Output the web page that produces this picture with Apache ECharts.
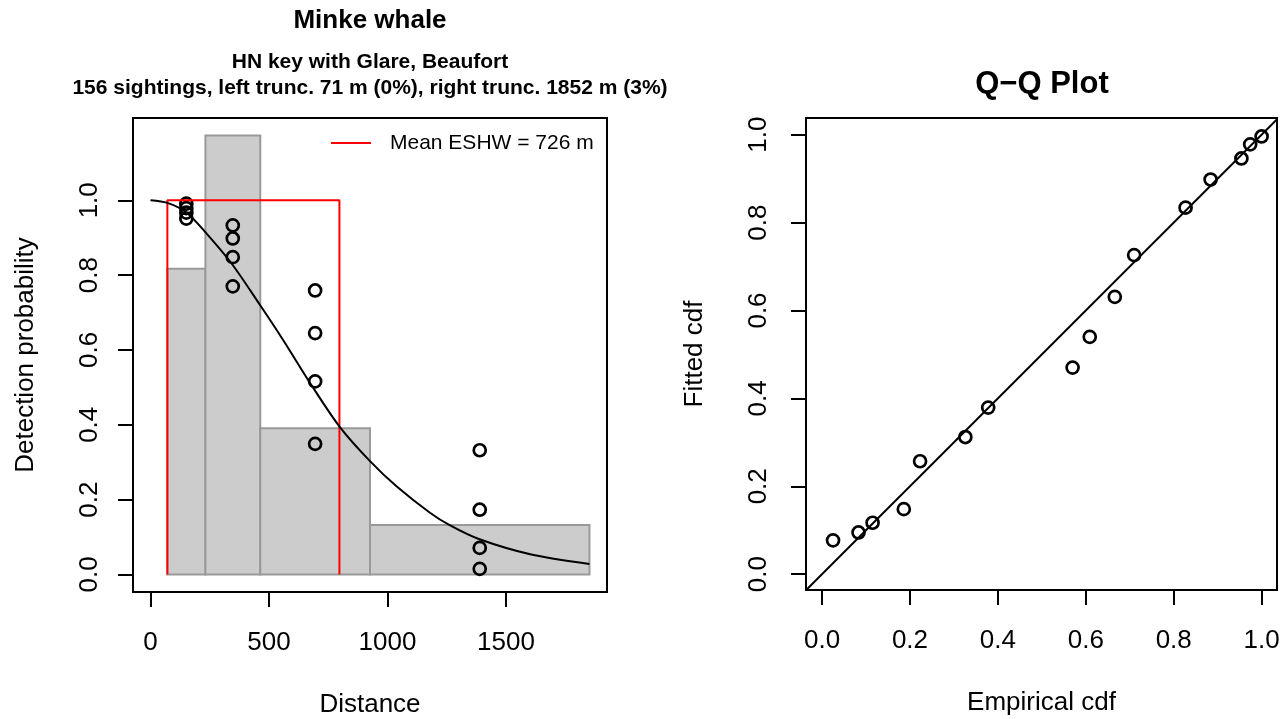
<!DOCTYPE html>
<html>
<head>
<meta charset="utf-8">
<script src="https://cdn.jsdelivr.net/npm/echarts@6/dist/echarts.min.js"></script>
<style>
  html, body { margin: 0; padding: 0; background: #ffffff; }
  #chart { width: 1287px; height: 719px; }
</style>
</head>
<body>
<div id="chart"></div>
<script>
// Histogram bin edges (m) and scaled bar heights
const binEdges = [71, 231.5, 463, 926, 1852];
const binHeights = [0.817, 1.173, 0.391, 0.132];

// Truncation distance and mean effective strip half-width (m)
const leftTrunc = 71;
const meanESHW = 726;
const eshwHeight = 1.0;

// Fitted detection function: distance (m) and detection probability
const curveDist = [0, 71, 150, 231, 342, 462, 560, 680, 799, 926, 1039, 1179, 1264, 1388, 1602, 1852];
const curveProb = [1.000, 0.993, 0.968, 0.915, 0.831, 0.720, 0.626, 0.505, 0.394, 0.303, 0.235, 0.165, 0.131, 0.094, 0.054, 0.028];

// Detection probabilities at the bin midpoints
const pointDist = [151, 347, 694.5, 1389];
const pointProb = [
  [0.991, 0.979, 0.967, 0.951],
  [0.933, 0.898, 0.848, 0.770],
  [0.759, 0.645, 0.516, 0.349],
  [0.332, 0.173, 0.071, 0.015]
];

// Q-Q plot values
const empiricalCdf = [0.025, 0.083, 0.115, 0.186, 0.223, 0.326, 0.378, 0.570, 0.609, 0.666, 0.710, 0.827, 0.884, 0.954, 0.974, 1.000];
const fittedCdf    = [0.077, 0.095, 0.117, 0.148, 0.257, 0.312, 0.379, 0.470, 0.540, 0.631, 0.726, 0.834, 0.898, 0.946, 0.978, 0.996];
const qqLineEnds = [-0.1, 1.1];

// Tick positions
const distTicks = [0, 500, 1000, 1500];
const probTicks = [0, 0.2, 0.4, 0.6, 0.8, 1.0];
const cdfTicks = [0, 0.2, 0.4, 0.6, 0.8, 1.0];

// Text
const mainTitle = 'Minke whale';
const subTitle = ['HN key with Glare, Beaufort',
                  '156 sightings, left trunc. 71 m (0%), right trunc. 1852 m (3%)'];
const qqTitle = 'Q\u2212Q Plot';
const eshwLabel = 'Mean ESHW = ' + meanESHW + ' m';

const FONT = '"Liberation Sans", Arial, Helvetica, sans-serif';

const barData = binHeights.map((h, i) => [binEdges[i], binEdges[i + 1], h]);
const eshwRect = [
  [leftTrunc, 0], [leftTrunc, eshwHeight],
  [leftTrunc + meanESHW, eshwHeight], [leftTrunc + meanESHW, 0]
];
const curveData = curveDist.map((d, i) => [d, curveProb[i]]);
const pointData = [];
pointDist.forEach((d, i) => pointProb[i].forEach(p => pointData.push([d, p])));
const qqData = empiricalCdf.map((e, i) => [e, fittedCdf[i]]);
const qqLine = qqLineEnds.map(v => [v, v]);

function axisCommon(ticks, fmt, margin, rotate, extra) {
  return Object.assign({
    type: 'value',
    splitLine: { show: false },
    axisLine: { show: true, onZero: false, lineStyle: { color: '#000', width: 2 } },
    axisTick: { show: true, length: 15, customValues: ticks, lineStyle: { color: '#000', width: 2 } },
    axisLabel: {
      show: true, customValues: ticks, formatter: fmt, margin: margin, rotate: rotate,
      color: '#000', fontSize: 26, fontFamily: FONT
    },
    nameLocation: 'middle',
    nameTextStyle: { color: '#000', fontSize: 26, fontFamily: FONT }
  }, extra);
}

const chart = echarts.init(document.getElementById('chart'), null, { renderer: 'canvas' });

chart.setOption({
  animation: false,
  backgroundColor: '#ffffff',
  title: [
    {
      text: mainTitle,
      subtext: subTitle.join('\n'),
      left: 370, top: 8, textAlign: 'center', padding: 0, itemGap: 15,
      textStyle: { fontSize: 26, fontWeight: 'bold', color: '#000', fontFamily: FONT, lineHeight: 26 },
      subtextStyle: { fontSize: 21, fontWeight: 'bold', color: '#000', fontFamily: FONT, lineHeight: 26 }
    },
    {
      text: qqTitle,
      left: 1042, top: 68, textAlign: 'center', padding: 0,
      textStyle: { fontSize: 31, fontWeight: 'bold', color: '#000', fontFamily: FONT, lineHeight: 32 }
    }
  ],
  legend: {
    data: [eshwLabel],
    left: 331, top: 131, padding: 0,
    icon: 'rect', itemWidth: 40, itemHeight: 2,
    selectedMode: false,
    textStyle: { fontSize: 21, color: '#000', fontFamily: FONT, lineHeight: 24, padding: [0, 0, 0, 14] }
  },
  grid: [
    { left: 133, top: 118, width: 474, height: 474, outerBoundsMode: 'none', containLabel: false,
      show: true, borderColor: '#000', borderWidth: 2, backgroundColor: 'transparent' },
    { left: 806, top: 118, width: 471, height: 472, outerBoundsMode: 'none', containLabel: false,
      show: true, borderColor: '#000', borderWidth: 2, backgroundColor: 'transparent' }
  ],
  xAxis: [
    axisCommon(distTicks, v => String(v), 38, 0, {
      gridIndex: 0, min: -74, max: 1926, name: 'Distance', nameGap: 100
    }),
    axisCommon(cdfTicks, v => v.toFixed(1), 38, 0, {
      gridIndex: 1, min: -0.0365, max: 1.035, name: 'Empirical cdf', nameGap: 100
    })
  ],
  yAxis: [
    axisCommon(probTicks, v => v.toFixed(1), 30, 90, {
      gridIndex: 0, min: -0.0469, max: 1.2199, name: 'Detection probability', nameGap: 94
    }),
    axisCommon(cdfTicks, v => v.toFixed(1), 34, 90, {
      gridIndex: 1, min: -0.036, max: 1.038, name: 'Fitted cdf', nameGap: 98
    })
  ],
  series: [
    {
      type: 'custom',
      name: 'Observed',
      xAxisIndex: 0, yAxisIndex: 0,
      data: barData,
      encode: { x: [0, 1], y: 2 },
      renderItem: function (params, api) {
        const topLeft = api.coord([api.value(0), api.value(2)]);
        const bottomRight = api.coord([api.value(1), 0]);
        return {
          type: 'rect',
          shape: {
            x: topLeft[0], y: topLeft[1],
            width: bottomRight[0] - topLeft[0],
            height: bottomRight[1] - topLeft[1]
          },
          style: { fill: '#cccccc', stroke: '#999999', lineWidth: 2 }
        };
      }
    },
    {
      type: 'line',
      name: eshwLabel,
      xAxisIndex: 0, yAxisIndex: 0,
      data: eshwRect,
      showSymbol: false, symbol: 'none',
      color: '#ff0000',
      lineStyle: { color: '#ff0000', width: 2 }
    },
    {
      type: 'line',
      name: 'Detection function',
      xAxisIndex: 0, yAxisIndex: 0,
      data: curveData,
      showSymbol: false, symbol: 'none',
      smooth: 0.3,
      lineStyle: { color: '#000', width: 2 }
    },
    {
      type: 'scatter',
      name: 'Bin probability',
      xAxisIndex: 0, yAxisIndex: 0,
      data: pointData,
      symbol: 'circle', symbolSize: 12,
      itemStyle: { color: 'transparent', borderColor: '#000', borderWidth: 2.7, opacity: 1 }
    },
    {
      type: 'line',
      name: 'Reference',
      xAxisIndex: 1, yAxisIndex: 1,
      data: qqLine,
      clip: true,
      showSymbol: false, symbol: 'none',
      lineStyle: { color: '#000', width: 2 }
    },
    {
      type: 'scatter',
      name: 'Q-Q',
      xAxisIndex: 1, yAxisIndex: 1,
      data: qqData,
      symbol: 'circle', symbolSize: 12,
      itemStyle: { color: 'transparent', borderColor: '#000', borderWidth: 2.7, opacity: 1 }
    }
  ]
});
</script>
</body>
</html>
